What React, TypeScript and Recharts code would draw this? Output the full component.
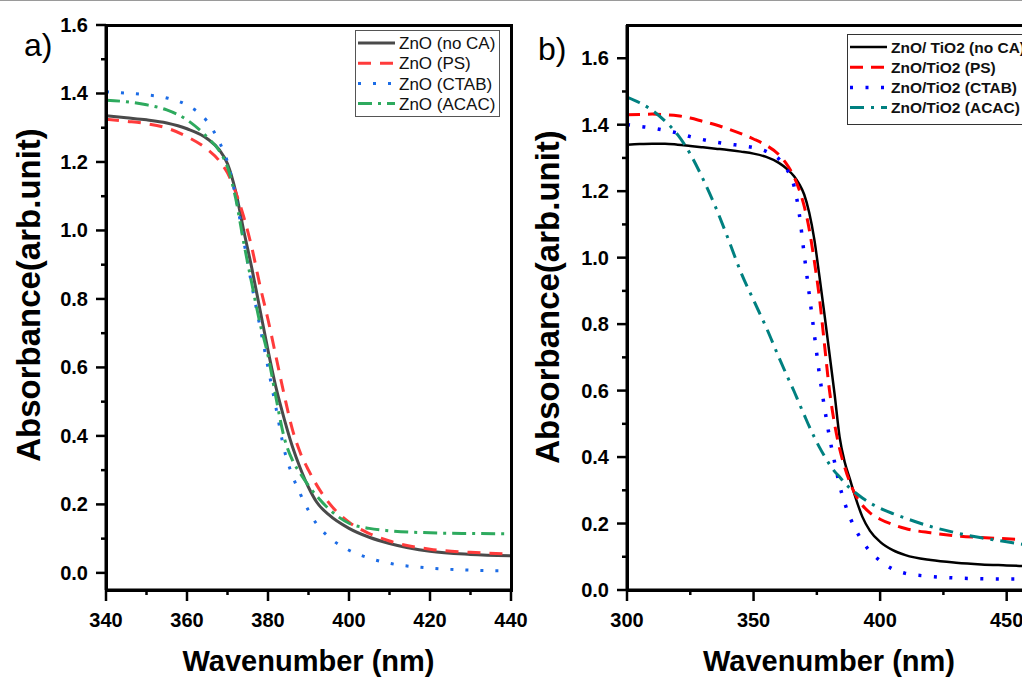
import { LineChart, Line, XAxis, YAxis } from 'recharts';

// panel a) ZnO
const leftWl = [340, 345, 350, 355, 360, 365, 368, 370, 372, 374, 376, 378, 380, 382, 384, 386, 388, 390, 392, 395, 400, 405, 410, 420, 430, 440];
const leftNoCA = [1.335, 1.329, 1.323, 1.314, 1.297, 1.268, 1.235, 1.195, 1.115, 1.0, 0.89, 0.77, 0.65, 0.54, 0.45, 0.37, 0.305, 0.25, 0.207, 0.17, 0.13, 0.104, 0.086, 0.063, 0.054, 0.05];
const leftPS = [1.325, 1.319, 1.312, 1.299, 1.274, 1.237, 1.203, 1.168, 1.112, 1.04, 0.95, 0.84, 0.74, 0.63, 0.52, 0.42, 0.35, 0.3, 0.257, 0.205, 0.148, 0.115, 0.093, 0.069, 0.06, 0.055];
const leftCTAB = [1.405, 1.401, 1.396, 1.387, 1.366, 1.318, 1.258, 1.2, 1.1, 0.97, 0.84, 0.72, 0.6, 0.48, 0.36, 0.285, 0.23, 0.182, 0.143, 0.105, 0.066, 0.043, 0.028, 0.014, 0.008, 0.006];
const leftACAC = [1.38, 1.376, 1.367, 1.352, 1.323, 1.272, 1.232, 1.185, 1.095, 0.965, 0.845, 0.73, 0.635, 0.51, 0.395, 0.33, 0.29, 0.255, 0.225, 0.187, 0.145, 0.13, 0.123, 0.117, 0.115, 0.114];

// panel b) ZnO/TiO2
const rightWl = [300, 305, 310, 315, 320, 325, 330, 335, 340, 345, 350, 355, 360, 363, 366, 368, 370, 372, 374, 376, 378, 380, 382, 384, 386, 388, 390, 393, 396, 400, 405, 410, 420, 430, 440, 450, 460];
const rightNoCA = [1.34, 1.342, 1.343, 1.343, 1.34, 1.336, 1.332, 1.328, 1.324, 1.319, 1.313, 1.303, 1.285, 1.268, 1.245, 1.222, 1.19, 1.135, 1.055, 0.945, 0.83, 0.71, 0.59, 0.46, 0.385, 0.335, 0.285, 0.22, 0.178, 0.145, 0.12, 0.105, 0.09, 0.082, 0.077, 0.074, 0.071];
const rightPS = [1.43, 1.431, 1.432, 1.43, 1.427, 1.42, 1.41, 1.4, 1.387, 1.373, 1.357, 1.338, 1.31, 1.282, 1.243, 1.205, 1.155, 1.085, 0.99, 0.88, 0.74, 0.6, 0.5, 0.425, 0.37, 0.325, 0.29, 0.255, 0.232, 0.213, 0.197, 0.185, 0.172, 0.163, 0.158, 0.154, 0.151];
const rightCTAB = [1.4, 1.395, 1.39, 1.383, 1.375, 1.364, 1.355, 1.348, 1.342, 1.337, 1.331, 1.32, 1.297, 1.268, 1.215, 1.135, 1.01, 0.89, 0.77, 0.65, 0.55, 0.46, 0.385, 0.315, 0.262, 0.22, 0.187, 0.147, 0.116, 0.088, 0.063, 0.05, 0.041, 0.036, 0.034, 0.033, 0.033];
const rightACAC = [1.483, 1.466, 1.443, 1.411, 1.37, 1.312, 1.237, 1.152, 1.056, 0.956, 0.872, 0.79, 0.7, 0.648, 0.598, 0.562, 0.527, 0.492, 0.46, 0.43, 0.403, 0.378, 0.357, 0.34, 0.322, 0.307, 0.294, 0.277, 0.262, 0.246, 0.23, 0.216, 0.191, 0.172, 0.157, 0.145, 0.133];

const leftNames = ['ZnO (no CA)', 'ZnO (PS)', 'ZnO (CTAB)', 'ZnO (ACAC)'];
const rightNames = ['ZnO/ TiO2 (no CA)', 'ZnO/TiO2 (PS)', 'ZnO/TiO2 (CTAB)', 'ZnO/TiO2 (ACAC)'];

const leftXTicks = [340, 350, 360, 370, 380, 390, 400, 410, 420, 430, 440];
const rightXTicks = [300, 325, 350, 375, 400, 425, 450];
const leftYTicks = [0, 0.1, 0.2, 0.3, 0.4, 0.5, 0.6, 0.7, 0.8, 0.9, 1.0, 1.1, 1.2, 1.3, 1.4, 1.5, 1.6];
const rightYTicks = [0, 0.1, 0.2, 0.3, 0.4, 0.5, 0.6, 0.7, 0.8, 0.9, 1.0, 1.1, 1.2, 1.3, 1.4, 1.5, 1.6];

const leftStyles = [
  { color: '#4a4a4a', dash: undefined, width: 3 },
  { color: '#ff3b3b', dash: '13 9', width: 3 },
  { color: '#1c6ce6', dash: '3 12', width: 3 },
  { color: '#2eaa5e', dash: '14 6 3 6', width: 3 },
];
const rightStyles = [
  { color: '#000000', dash: undefined, width: 2.5 },
  { color: '#ff0000', dash: '13 8', width: 3 },
  { color: '#0000ff', dash: '3 12.5', width: 3.5 },
  { color: '#008080', dash: '14 7 3 7', width: 3 },
];

const leftRows = leftWl.map((wl, i) => ({ wl, s0: leftNoCA[i], s1: leftPS[i], s2: leftCTAB[i], s3: leftACAC[i] }));
const rightRows = rightWl.map((wl, i) => ({ wl, s0: rightNoCA[i], s1: rightPS[i], s2: rightCTAB[i], s3: rightACAC[i] }));

const FONT = '"Liberation Sans", Arial, sans-serif';

const isMajor = (v: number, step: number) => Math.abs(v / step - Math.round(v / step)) < 1e-6;

function YTick(props: any) {
  const { x, y, payload } = props;
  const v = payload.value;
  const major = isMajor(v, 0.2);
  return (
    <g>
      <line x1={x} x2={x - (major ? 10 : 5)} y1={y} y2={y} stroke="#000" strokeWidth={2.5} />
      {major && (
        <text x={x - 18} y={y} dy={7} textAnchor="end" fontFamily={FONT} fontWeight="bold" fontSize={20} fill="#000">
          {v.toFixed(1)}
        </text>
      )}
    </g>
  );
}

function XTick(props: any) {
  const { x, y, payload, majorStep } = props;
  const v = payload.value;
  const major = isMajor(v, majorStep);
  return (
    <g>
      <line x1={x} x2={x} y1={y} y2={y + (major ? 11 : 5)} stroke="#000" strokeWidth={2.5} />
      {major && (
        <text x={x} y={y + 37} textAnchor="middle" fontFamily={FONT} fontWeight="bold" fontSize={20} fill="#000">
          {v}
        </text>
      )}
    </g>
  );
}

function LegendBox({ left, top, width, height, names, styles, bold, fontSize, border }: any) {
  return (
    <svg style={{ position: 'absolute', left, top }} width={width} height={height}>
      <rect x={0.5} y={0.5} width={width - 1} height={height - 1} fill="#fff" stroke={border} strokeWidth={1} />
      {names.map((n: string, i: number) => {
        const cy = 13 + i * 20.2;
        return (
          <g key={n}>
            <line x1={3} x2={40} y1={cy} y2={cy} stroke={styles[i].color} strokeWidth={styles[i].width} strokeDasharray={styles[i].dash} />
            <text x={44} y={cy + fontSize * 0.36} fontFamily={FONT} fontWeight={bold ? 'bold' : 'normal'} fontSize={fontSize} fill="#111">
              {n}
            </text>
          </g>
        );
      })}
    </svg>
  );
}

// box round the plot area, as four solid bars
function Frame({ left, top, width, height }: any) {
  const t = 3;
  const bar = (l: number, tp: number, w: number, h: number) => (
    <div style={{ position: 'absolute', left: l, top: tp, width: w, height: h, background: '#000', zIndex: 5 }} />
  );
  return (
    <>
      {bar(left - 1.5, top - 1.5, width + t, t)}
      {bar(left - 1.5, top + height - 1.5, width + t, t)}
      {bar(left - 1.5, top - 1.5, t, height + t)}
      {bar(left + width - 1.5, top - 1.5, t, height + t)}
    </>
  );
}

function Panel({ rows, xDomain, yDomain, xTicks, yTicks, xMajor, styles, names, width, yAxisWidth, right }: any) {
  return (
    <LineChart width={width} height={678} data={rows} margin={{ top: 25, right, bottom: 28, left: 0 }}>
      <XAxis
        dataKey="wl"
        type="number"
        domain={xDomain}
        allowDataOverflow
        ticks={xTicks}
        interval={0}
        height={60}
        axisLine={{ stroke: '#000', strokeWidth: 3 }}
        tickLine={false}
        tickSize={0}
        tickMargin={0}
        tick={(p: any) => <XTick {...p} majorStep={xMajor} />}
      />
      <YAxis
        type="number"
        domain={yDomain}
        allowDataOverflow
        ticks={yTicks}
        interval={0}
        width={yAxisWidth}
        axisLine={{ stroke: '#000', strokeWidth: 3 }}
        tickLine={false}
        tickSize={0}
        tickMargin={0}
        tick={(p: any) => <YTick {...p} />}
      />
      {styles.map((s: any, i: number) => (
        <Line
          key={names[i]}
          dataKey={`s${i}`}
          name={names[i]}
          type="monotone"
          stroke={s.color}
          strokeWidth={s.width}
          strokeDasharray={s.dash}
          dot={false}
          activeDot={false}
          isAnimationActive={false}
        />
      ))}
    </LineChart>
  );
}

export default function App() {
  return (
    <div style={{ position: 'absolute', left: 0, top: 0, width: 1022, height: 678, overflow: 'hidden', background: '#fff', fontFamily: FONT }}>
      <div style={{ position: 'absolute', left: 0, top: 0, width: 1022, height: 1, background: '#9a9a9a' }} />
      <div style={{ position: 'absolute', left: 0, top: 0 }}>
        <Panel rows={leftRows} xDomain={[340, 440]} yDomain={[-0.05, 1.6]} xTicks={leftXTicks} yTicks={leftYTicks} xMajor={20} styles={leftStyles} names={leftNames} width={540} yAxisWidth={106} right={29} />
      </div>
      <div style={{ position: 'absolute', left: 520, top: 0 }}>
        <Panel rows={rightRows} xDomain={[300, 460]} yDomain={[0, 1.7]} xTicks={rightXTicks} yTicks={rightYTicks} xMajor={50} styles={rightStyles} names={rightNames} width={532} yAxisWidth={107} right={20} />
      </div>
      <Frame left={106} top={25} width={405} height={565} />
      <Frame left={627} top={25} width={405} height={565} />
      <svg style={{ position: 'absolute', left: 0, top: 0, pointerEvents: 'none', zIndex: 6 }} width={1022} height={678}>
        <text x={24} y={56} fontFamily={FONT} fontSize={32} fill="#000">a)</text>
        <text x={538} y={60} fontFamily={FONT} fontSize={32} fill="#000">b)</text>
        <text transform="translate(40,295) rotate(-90)" textAnchor="middle" fontFamily={FONT} fontWeight="bold" fontSize={33} fill="#000">Absorbance(arb.unit)</text>
        <text transform="translate(559,297) rotate(-90)" textAnchor="middle" fontFamily={FONT} fontWeight="bold" fontSize={33} fill="#000">Absorbance(arb.unit)</text>
        <text x={308.5} y={671} textAnchor="middle" fontFamily={FONT} fontWeight="bold" fontSize={29} fill="#000">Wavenumber (nm)</text>
        <text x={829} y={671} textAnchor="middle" fontFamily={FONT} fontWeight="bold" fontSize={29} fill="#000">Wavenumber (nm)</text>
      </svg>
      <div style={{ position: 'absolute', left: 0, top: 0, zIndex: 7 }}>
        <LegendBox left={355} top={30} width={145} height={87} names={leftNames} styles={leftStyles} bold={false} fontSize={17} border="#555" />
        <LegendBox left={847} top={34} width={200} height={91} names={rightNames} styles={rightStyles} bold fontSize={15.5} border="#333" />
      </div>
    </div>
  );
}
